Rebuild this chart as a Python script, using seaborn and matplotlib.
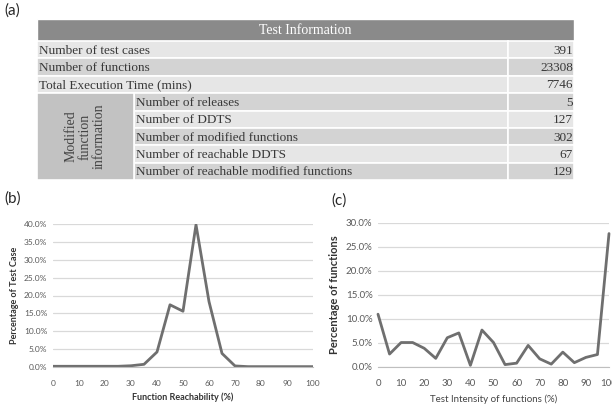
import numpy as np
import pandas as pd
import seaborn as sns
import matplotlib.pyplot as plt
from matplotlib.patches import Rectangle
from matplotlib.ticker import PercentFormatter

# table (a)
header = 'Test Information'
general_labels = ['Number of test cases', 'Number of functions', 'Total Execution Time (mins)']
general_values = ['391', '23308', '7746']
group_label = 'Modified\nfunction\ninformation'
modified_labels = ['Number of releases', 'Number of DDTS', 'Number of modified functions',
                   'Number of reachable DDTS', 'Number of reachable modified functions']
modified_values = ['5', '127', '302', '67', '129']

# chart (b)
reach_x = list(range(0, 105, 5))
reach_pct = [0.2, 0.2, 0.2, 0.2, 0.2, 0.2, 0.35, 0.75, 4.2, 17.4, 15.6, 39.8,
             18.3, 3.8, 0.3, 0.1, 0.1, 0.1, 0.1, 0.1, 0.1]

# chart (c)
intens_x = list(range(0, 105, 5))
intens_pct = [11.0, 2.7, 5.1, 5.1, 3.9, 1.8, 6.1, 7.1, 0.35, 7.7, 5.1, 0.5,
              0.8, 4.5, 1.7, 0.6, 3.1, 0.9, 2.0, 2.6, 27.8]

W, H = 612, 409
serif = 'Liberation Serif'
sans = 'Lato'
line_col = '#6f6f6f'
tick_col = '#5a5a5a'


def draw_table(fig):
    left, right, top, bottom = 37, 574, 19, 180
    ax = fig.add_axes([left / W, 1 - bottom / H, (right - left) / W, (bottom - top) / H])
    ax.set_xlim(left, right)
    ax.set_ylim(bottom, top)
    ax.axis('off')

    hdr_h = 22
    val_x = 508
    grp_x = 134
    rows = general_labels + modified_labels
    vals = general_values + modified_values
    row_h = (bottom - top - hdr_h) / len(rows)

    ax.add_patch(Rectangle((left, top), right - left, hdr_h, fc='#8a8a8a', ec='white', lw=1))
    ax.text((left + right) / 2, top + hdr_h / 2, header, ha='center', va='center',
            color='white', fontsize=10, family=serif)

    for i, (lab, val) in enumerate(zip(rows, vals)):
        y0 = top + hdr_h + i * row_h
        fc = '#e6e6e6' if i % 2 == 0 else '#d3d3d3'
        x0 = left if i < len(general_labels) else grp_x
        ax.add_patch(Rectangle((x0, y0), val_x - x0, row_h, fc=fc, ec='white', lw=1.2))
        ax.add_patch(Rectangle((val_x, y0), right - val_x, row_h, fc=fc, ec='white', lw=1.2))
        ax.text(x0 + 2, y0 + row_h / 2 + 1, lab, ha='left', va='center',
                color='#383838', fontsize=9.5, family=serif)
        ax.text(right - 1, y0 + row_h / 2 + 1, val, ha='right', va='center',
                color='#383838', fontsize=9.5, family=serif)

    g0 = top + hdr_h + len(general_labels) * row_h
    ax.add_patch(Rectangle((left, g0), grp_x - left, bottom - g0, fc='#c2c2c2', ec='white', lw=1.2))
    ax.text((left + grp_x) / 2, (g0 + bottom) / 2, group_label, ha='center', va='center',
            rotation=90, color='#444444', fontsize=10, family=serif, linespacing=1.1)


def style_axis(ax, ymax, step, fs):
    ax.set_xlim(0, 100)
    ax.set_ylim(0, ymax)
    ax.set_xticks(range(0, 101, 10))
    ax.set_yticks(np.arange(0, ymax + 0.01, step))
    ax.yaxis.set_major_formatter(PercentFormatter(decimals=1))
    ax.grid(axis='y', color='#d9d9d9', lw=0.9)
    ax.grid(axis='x', visible=False)
    for s in ['top', 'right', 'left']:
        ax.spines[s].set_visible(False)
    ax.spines['bottom'].set_color('#bfbfbf')
    ax.tick_params(axis='x', length=3, color='#bfbfbf', labelsize=fs, labelcolor=tick_col, pad=6)
    ax.tick_params(axis='y', length=0, labelsize=fs, labelcolor=tick_col, pad=4)
    ax.set_axisbelow(True)


def main():
    sns.set_style('white')
    plt.rcParams['font.family'] = [sans, 'DejaVu Sans']

    fig = plt.figure(figsize=(W / 100, H / 100), dpi=100)

    draw_table(fig)

    df_b = pd.DataFrame({'x': reach_x, 'pct': reach_pct})
    ax_b = fig.add_axes([53 / W, 1 - 367 / H, 260 / W, 143 / H])
    sns.lineplot(data=df_b, x='x', y='pct', ax=ax_b, color=line_col, lw=2)
    style_axis(ax_b, 40, 5, 6)
    ax_b.set_xlabel('Function Reachability (%)', fontsize=6.5, fontweight='bold', color='#333333')
    ax_b.set_ylabel('Percentage of Test Case', fontsize=6.5, fontweight='bold', color='#333333')

    df_c = pd.DataFrame({'x': intens_x, 'pct': intens_pct})
    ax_c = fig.add_axes([378 / W, 1 - 367 / H, 231 / W, 144 / H])
    sns.lineplot(data=df_c, x='x', y='pct', ax=ax_c, color=line_col, lw=2, clip_on=False)
    style_axis(ax_c, 30, 5, 7)
    ax_c.set_xlabel('Test Intensity of functions (%)', fontsize=7, color='#444444')
    ax_c.set_ylabel('Percentage of functions', fontsize=8, fontweight='bold', color='#333333')

    fig.text(4 / W, 1 - 11 / H, '(a)', fontsize=11, va='center', ha='left')
    fig.text(4 / W, 1 - 199 / H, '(b)', fontsize=11, va='center', ha='left')
    fig.text(331 / W, 1 - 201 / H, '(c)', fontsize=11, va='center', ha='left')

    fig.savefig('out.png', dpi=100)


if __name__ == '__main__':
    main()
